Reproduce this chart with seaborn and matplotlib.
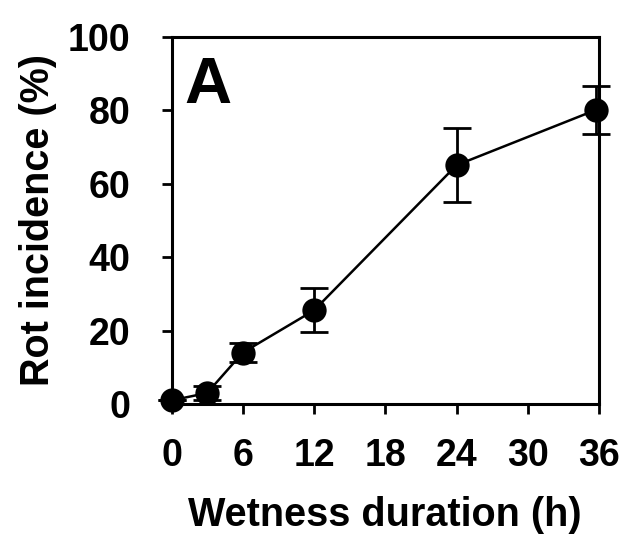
import matplotlib
matplotlib.use("Agg")
import matplotlib.pyplot as plt
import seaborn as sns
import pandas as pd

hours = [0, 3, 6, 12, 24, 35.7]
incidence = [1, 3, 14, 25.5, 65, 80]
err = [0, 2, 2.5, 6, 10, 6.5]
xticks = [0, 6, 12, 18, 24, 30, 36]
yticks = [0, 20, 40, 60, 80, 100]

sns.set_style("ticks")
plt.rcParams['font.family'] = ['Liberation Sans', 'DejaVu Sans']
plt.rcParams['font.weight'] = 'bold'
plt.rcParams['text.color'] = 'black'
plt.rcParams['axes.labelcolor'] = 'black'
plt.rcParams['xtick.color'] = 'black'
plt.rcParams['ytick.color'] = 'black'

df = pd.DataFrame({"hours": hours, "incidence": incidence, "err": err})

fig = plt.figure(figsize=(6.26, 5.38), dpi=100)
ax = fig.add_axes([0.274, 0.249, 0.683, 0.683])

ax.errorbar(df["hours"], df["incidence"], yerr=df["err"], fmt="none",
            ecolor="black", elinewidth=2, capsize=10, capthick=2,
            zorder=2, clip_on=False)
sns.lineplot(data=df, x="hours", y="incidence", ax=ax, color="black",
             linewidth=1.8, marker="o", markersize=17.5, markeredgewidth=0,
             markerfacecolor="black", zorder=3, clip_on=False)

ax.set_xlim(0, 36)
ax.set_ylim(0, 100)
ax.set_xticks(xticks)
ax.set_yticks(yticks)
ax.set_xticklabels([str(t) for t in xticks], fontsize=27, fontweight='bold')
ax.set_yticklabels([str(t) for t in yticks], fontsize=27, fontweight='bold')
ax.tick_params(axis='both', direction='out', length=7.5, width=2,
               color='black', labelcolor='black')
ax.tick_params(axis='x', pad=17)
ax.tick_params(axis='y', pad=22)
for s in ax.spines.values():
    s.set_linewidth(2.2)
    s.set_color('black')
    s.set_visible(True)

ax.set_xlabel("Wetness duration (h)", fontsize=28.5, fontweight='bold',
              labelpad=16, color='black')
ax.set_ylabel("Rot incidence (%)", fontsize=28.5, fontweight='bold',
              labelpad=8, color='black')
ax.text(0.031, 0.82, "A", transform=ax.transAxes, fontsize=47,
        fontweight='bold', ha='left', va='baseline', color='black')

fig.savefig("out.png", dpi=100)
